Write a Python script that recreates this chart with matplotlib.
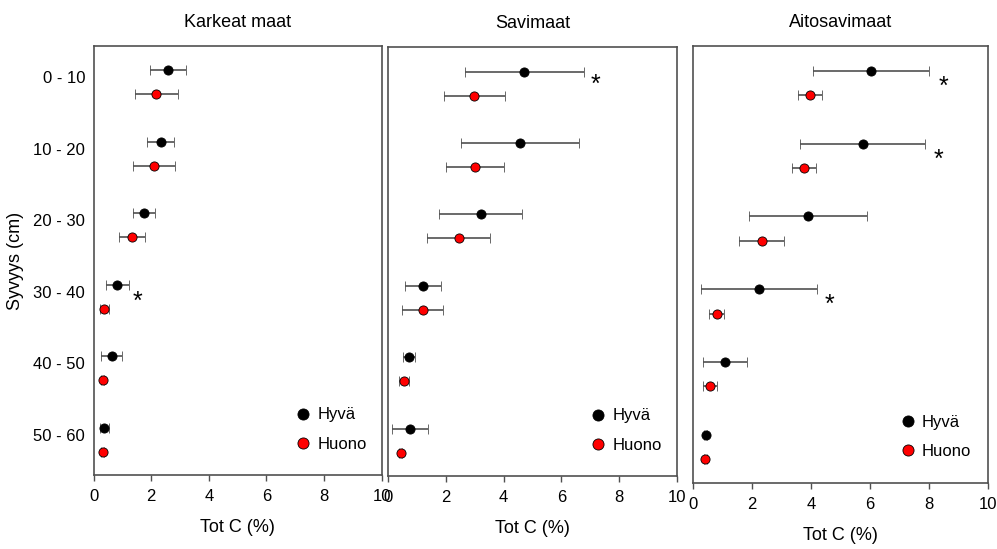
import matplotlib
matplotlib.use("Agg")
import matplotlib.pyplot as plt
from matplotlib.lines import Line2D
import numpy as np

plt.rcParams['font.family'] = ['Liberation Sans', 'DejaVu Sans']

depths = ["0 - 10", "10 - 20", "20 - 30", "30 - 40", "40 - 50", "50 - 60"]
titles = ["Karkeat maat", "Savimaat", "Aitosavimaat"]
series_names = ["Hyvä", "Huono"]

# Karkeat maat
k_hyva = [2.58, 2.33, 1.75, 0.83, 0.63, 0.38]
k_hyva_err = [0.63, 0.46, 0.37, 0.40, 0.37, 0.17]
k_huono = [2.18, 2.11, 1.34, 0.38, 0.32, 0.32]
k_huono_err = [0.75, 0.73, 0.45, 0.17, 0.05, 0.05]
# Savimaat
s_hyva = [4.72, 4.57, 3.20, 1.21, 0.72, 0.75]
s_hyva_err = [2.05, 2.05, 1.43, 0.63, 0.22, 0.61]
s_huono = [2.98, 3.01, 2.44, 1.19, 0.55, 0.43]
s_huono_err = [1.05, 1.00, 1.10, 0.71, 0.18, 0.05]
# Aitosavimaat
a_hyva = [6.04, 5.75, 3.89, 2.23, 1.09, 0.42]
a_hyva_err = [1.98, 2.13, 2.00, 1.97, 0.75, 0.05]
a_huono = [3.96, 3.77, 2.32, 0.79, 0.57, 0.40]
a_huono_err = [0.40, 0.41, 0.76, 0.25, 0.23, 0.05]

# significance markers: (x, depth position)
k_stars = [(1.53, 3.14)]
s_stars = [(7.19, 0.09)]
a_stars = [(8.49, 0.12), (8.32, 1.13), (4.61, 3.12)]

panels = [
    (k_hyva, k_hyva_err, k_huono, k_huono_err, k_stars),
    (s_hyva, s_hyva_err, s_huono, s_huono_err, s_stars),
    (a_hyva, a_hyva_err, a_huono, a_huono_err, a_stars),
]

W, H = 997, 549
fig = plt.figure(figsize=(W / 100, H / 100), dpi=100)

# axes rectangles in pixels: left, right, top, bottom
rects = [(93.5, 381.7, 46, 475), (388.3, 676.7, 47.3, 476), (693.3, 987.7, 46, 483)]

spine_col = '#505050'
ecol = '#505050'
pos = np.arange(len(depths))

for i, ((hy, hye, hu, hue, stars), (l, r, t, b)) in enumerate(zip(panels, rects)):
    ax = fig.add_axes([l / W, (H - b) / H, (r - l) / W, (b - t) / H])
    ax.errorbar(hy, pos - 0.10, xerr=hye, fmt='o', ms=6.6, mfc='black', mec='black',
                mew=0.6, ecolor=ecol, elinewidth=1.2, capsize=3.4, capthick=1.2, zorder=3)
    ax.errorbar(hu, pos + 0.235, xerr=hue, fmt='o', ms=6.6, mfc='#ff0000', mec='black',
                mew=0.6, ecolor=ecol, elinewidth=1.2, capsize=3.4, capthick=1.2, zorder=3)
    for sx, sy in stars:
        ax.text(sx, sy, "*", fontsize=18, ha='center', va='center', color='black')
    ax.set_xlim(0, 10)
    ax.set_ylim(5.56, -0.44)
    ax.set_xticks([0, 2, 4, 6, 8, 10])
    ax.tick_params(axis='x', direction='out', length=4, width=1, color=spine_col,
                   labelsize=12, pad=6)
    if i == 0:
        ax.set_yticks(pos)
        ax.set_yticklabels(depths)
        ax.tick_params(axis='y', length=0, labelsize=12, pad=6)
        ax.set_ylabel("Syvyys (cm)", fontsize=13)
        ax.yaxis.set_label_coords(-0.24, 0.5)
    else:
        ax.set_yticks([])
    for sp in ax.spines.values():
        sp.set_color(spine_col)
        sp.set_linewidth(1.2)
    ax.set_title(titles[i], fontsize=13, pad=14)
    ax.set_xlabel("Tot C (%)", fontsize=13, labelpad=11)

    handles = [Line2D([], [], ls='none', marker='o', ms=8.0, mfc='black', mec='black', mew=0.6),
               Line2D([], [], ls='none', marker='o', ms=8.0, mfc='#ff0000', mec='black', mew=0.6)]
    fs_px = 12 * 100 / 72
    axw = r - l
    ax.legend(handles, series_names, loc='center left',
              bbox_to_anchor=(0.728 - 0.5 * fs_px / axw, 0.106),
              frameon=False, fontsize=12, handlelength=1.0, handletextpad=0.35,
              labelspacing=0.85, borderpad=0, borderaxespad=0)

fig.savefig("out.png", dpi=100)
